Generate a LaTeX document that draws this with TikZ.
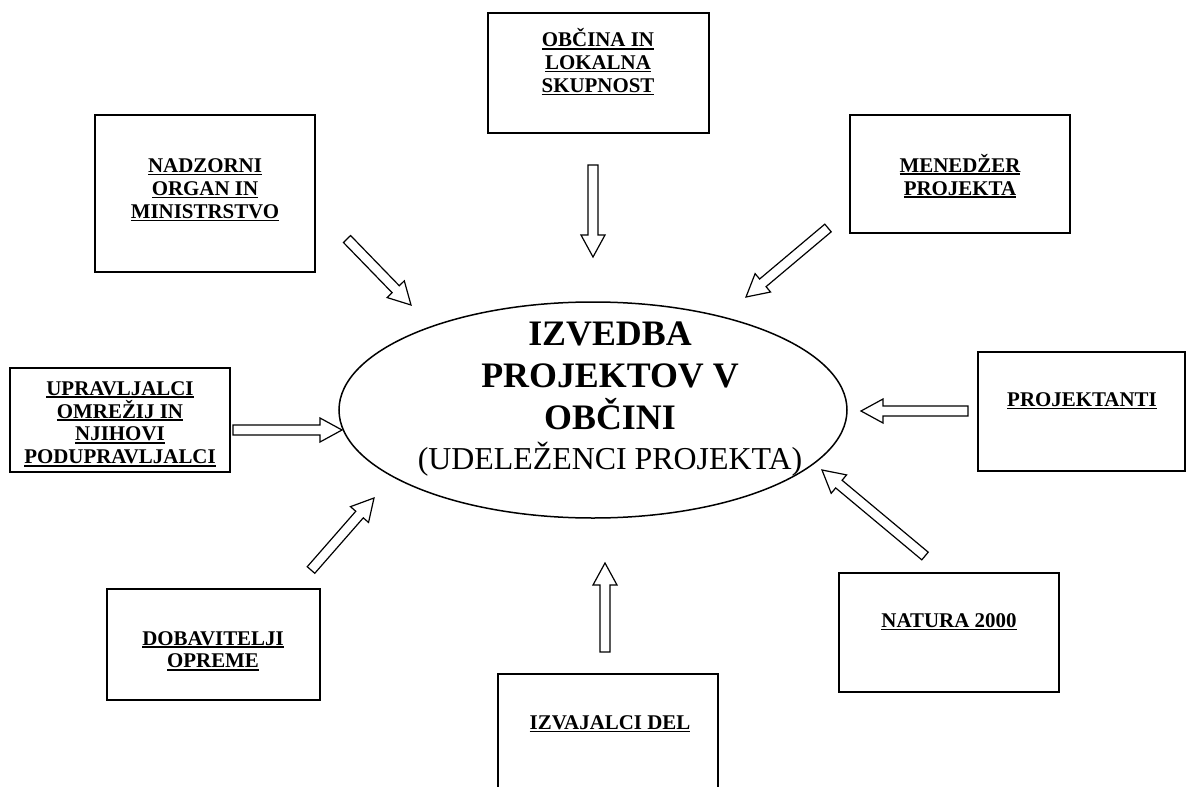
\documentclass[tikz,border=0pt]{standalone}
\usepackage{fontspec}
\setmainfont{Liberation Serif}
\usetikzlibrary{calc,shapes.geometric}
\newcommand\myul[1]{\leavevmode\setbox0\hbox{#1}\rlap{\rule[-2.8bp]{\wd0}{1.6bp}}\box0}
\newcommand\blockarrow[2]{%
  \coordinate (hb) at ($(#2)!22bp!(#1)$);
  \draw[blk] ($(#1)!5bp!90:(#2)$) -- ($(hb)!5bp!90:(#2)$) -- ($(hb)!12bp!90:(#2)$) -- (#2)
    -- ($(hb)!12bp!-90:(#2)$) -- ($(hb)!5bp!-90:(#2)$) -- ($(#1)!5bp!-90:(#2)$) -- cycle;}
\tikzset{
  box/.style={draw, line width=1.5bp, inner sep=0pt},
  lbl/.style={align=center, inner sep=0pt, font=\fontsize{21}{23}\selectfont\bfseries},
  blk/.style={draw, line width=1.2bp, fill=white, line join=miter},
}
\begin{document}
\begin{tikzpicture}[x=1bp, y=-1bp]
\fill[white] (0,0) rectangle (1187,787);
\useasboundingbox (0,0) rectangle (1187,787);

% boxes
\node[box, minimum width=221bp, minimum height=120bp] (obcina) at (598.5,73) {};
\node[box, minimum width=220bp, minimum height=157bp] (nadzor) at (205,193.5) {};
\node[box, minimum width=220bp, minimum height=118bp] (menedz) at (960,174) {};
\node[box, minimum width=220bp, minimum height=104bp] (upravl) at (120,420) {};
\node[box, minimum width=207bp, minimum height=119bp] (projek) at (1081.5,411.5) {};
\node[box, minimum width=213bp, minimum height=111bp] (dobav) at (213.5,644.5) {};
\node[box, minimum width=220bp, minimum height=119bp] (natura) at (949,632.5) {};
\node[box, minimum width=220bp, minimum height=126bp] (izvaj) at (608,737) {};

% box texts
\node[lbl] (tobcina) at (598,62) {\myul{OBČINA IN}\\\myul{LOKALNA}\\\myul{SKUPNOST}};
\node[lbl] (tnadzor) at (205,190) {\myul{NADZORNI}\\\myul{ORGAN IN}\\\myul{MINISTRSTVO}};
\node[lbl] (tmenedz) at (960,176) {\myul{MENEDŽER}\\\myul{PROJEKTA}};
\node[lbl] (tupravl) at (120,424) {\myul{UPRAVLJALCI}\\\myul{OMREŽIJ IN}\\\myul{NJIHOVI}\\\myul{PODUPRAVLJALCI}};
\node[lbl] (tprojek) at (1082,401) {\myul{PROJEKTANTI}};
\node[lbl] (tdobav) at (213,651) {\myul{DOBAVITELJI}\\\myul{OPREME}};
\node[lbl] (tnatura) at (949,622) {\myul{NATURA 2000}};
\node[lbl] (tizvaj) at (610,724) {\myul{IZVAJALCI DEL}};

% central ellipse
\node[draw, line width=1.5bp, ellipse, minimum width=508bp, minimum height=216bp, inner sep=0pt] (center) at (593,410) {};
\node[align=center, inner sep=0pt, font=\fontsize{36}{42}\selectfont\bfseries] (tcenter) at (610,399)
  {IZVEDBA\\PROJEKTOV V\\OBČINI\\[-2bp]{\fontsize{32}{40}\selectfont\mdseries (UDELEŽENCI PROJEKTA)}};

% arrows
\coordinate (a1t) at (593,165); \coordinate (a1p) at (593,257);
\coordinate (a2t) at (347,239); \coordinate (a2p) at (411,305);
\coordinate (a3t) at (828,228); \coordinate (a3p) at (746,297);
\coordinate (a4t) at (233,430); \coordinate (a4p) at (342,430);
\coordinate (a5t) at (968,411); \coordinate (a5p) at (861,411);
\coordinate (a6t) at (925,556); \coordinate (a6p) at (822,470);
\coordinate (a7t) at (605,652); \coordinate (a7p) at (605,563);
\coordinate (a8t) at (311,570); \coordinate (a8p) at (374,498);
\blockarrow{a1t}{a1p}
\blockarrow{a2t}{a2p}
\blockarrow{a3t}{a3p}
\blockarrow{a4t}{a4p}
\blockarrow{a5t}{a5p}
\blockarrow{a6t}{a6p}
\blockarrow{a7t}{a7p}
\blockarrow{a8t}{a8p}
\end{tikzpicture}
\end{document}
